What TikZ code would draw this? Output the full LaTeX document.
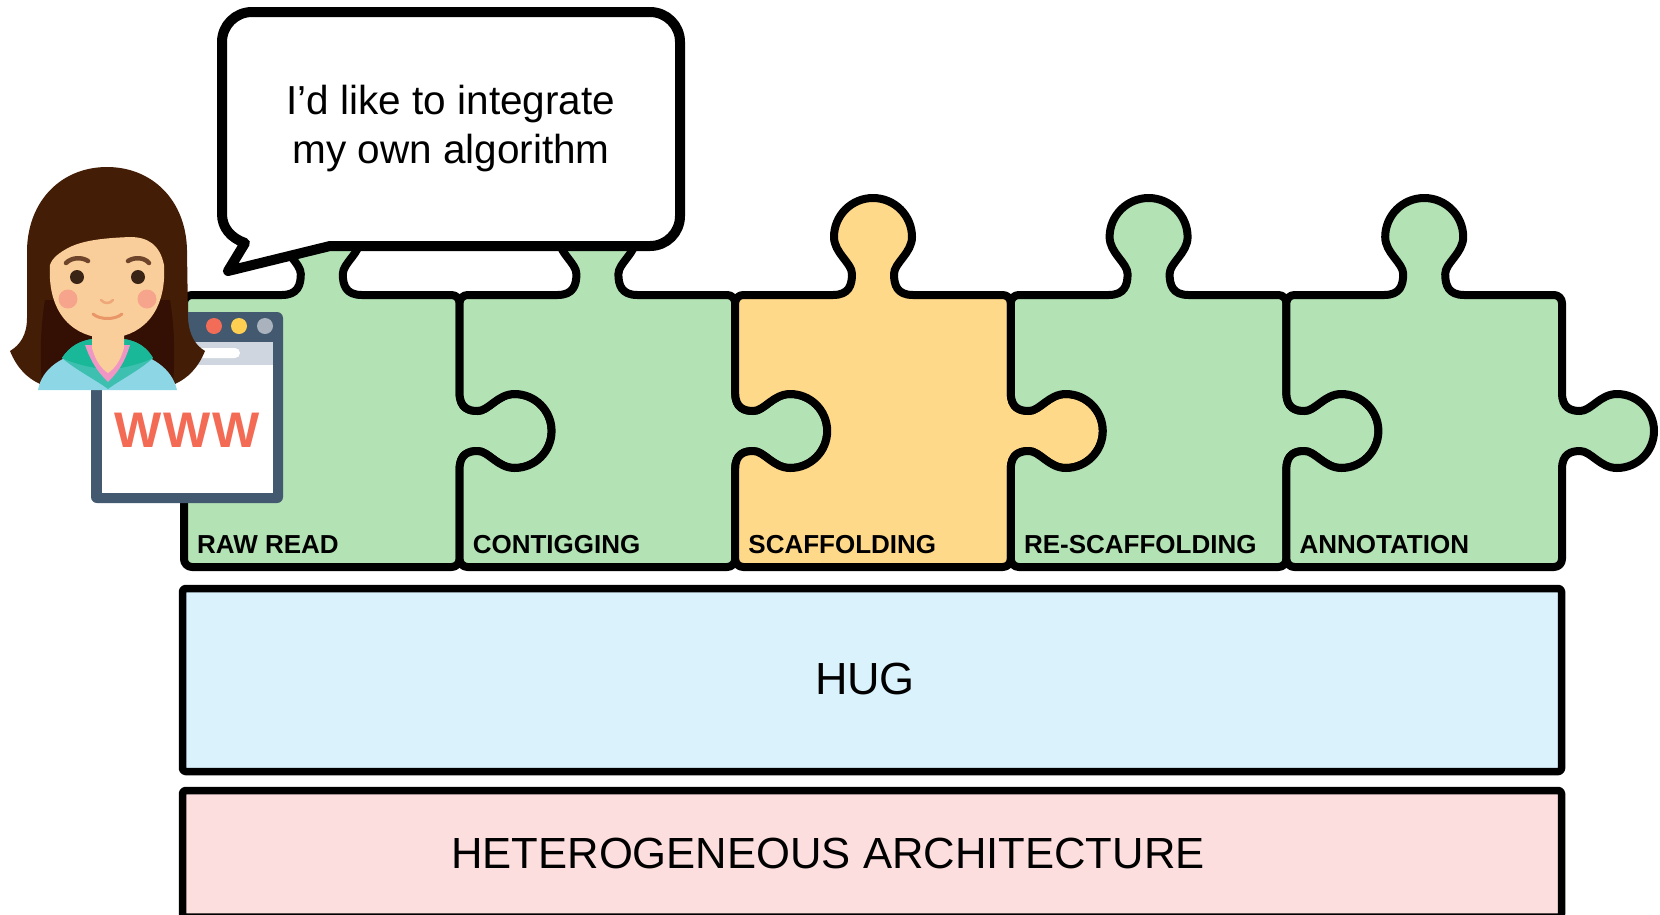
\documentclass[tikz,border=0pt]{standalone}
\usepackage{fontspec}
\setmainfont{Liberation Sans}

\definecolor{pieceGreen}{RGB}{179,226,181}
\definecolor{pieceOrange}{RGB}{255,217,138}
\definecolor{hugBlue}{RGB}{218,242,252}
\definecolor{archPink}{RGB}{253,222,222}
\definecolor{slate}{RGB}{67,89,111}
\definecolor{barGray}{RGB}{207,214,224}
\definecolor{dotRed}{RGB}{242,108,87}
\definecolor{dotYellow}{RGB}{255,207,82}
\definecolor{dotGray}{RGB}{170,179,189}
\definecolor{wwwRed}{RGB}{244,107,85}
\definecolor{hairA}{RGB}{68,29,6}
\definecolor{hairB}{RGB}{52,15,3}
\definecolor{skin}{RGB}{250,206,154}
\definecolor{cheek}{RGB}{246,165,140}
\definecolor{eye}{RGB}{58,36,22}
\definecolor{brow}{RGB}{110,68,42}
\definecolor{mouth}{RGB}{233,150,105}
\definecolor{teal}{RGB}{25,184,152}
\definecolor{lapel}{RGB}{62,192,176}
\definecolor{shirtBlue}{RGB}{140,214,230}
\definecolor{shirtPink}{RGB}{240,150,196}

% jigsaw piece geometry (1pt = 1px, y grows downwards)
\def\jW{275.6}
\def\jH{272}
\def\jX{137.8}
\def\jY{136}

% socket on the left edge, run upwards, bulging into the piece
\def\jsocket{-- (0,\jY+38) .. controls (0,\jY+23) and (9,\jY+20) .. (18,\jY+20)
 .. controls (29,\jY+20) and (38,\jY+37) .. (55,\jY+37)
 .. controls (75.4,\jY+37) and (92,\jY+20.4) .. (92,\jY)
 .. controls (92,\jY-20.4) and (75.4,\jY-37) .. (55,\jY-37)
 .. controls (38,\jY-37) and (29,\jY-20) .. (18,\jY-20)
 .. controls (9,\jY-20) and (0,\jY-23) .. (0,\jY-38)}

% #1 left x, #2 fill colour, #3 left edge (socket or nothing)
\newcommand\jigsawpiece[3]{%
  \begin{scope}[shift={(#1,295)}]
    \draw[jigsaw,fill=#2] (0,\jH-8) #3 -- (0,8) .. controls (0,3.6) and (3.6,0) .. (8,0)
      -- (\jX-40,0) .. controls (\jX-24,0) and (\jX-21,-10) .. (\jX-21,-21)
      .. controls (\jX-21,-32) and (\jX-39,-42) .. (\jX-39,-58)
      .. controls (\jX-39,-79.5) and (\jX-21.5,-97) .. (\jX,-97)
      .. controls (\jX+21.5,-97) and (\jX+39,-79.5) .. (\jX+39,-58)
      .. controls (\jX+39,-42) and (\jX+21,-32) .. (\jX+21,-21)
      .. controls (\jX+21,-10) and (\jX+24,0) .. (\jX+40,0)
      -- (\jW-8,0) .. controls (\jW-3.6,0) and (\jW,3.6) .. (\jW,8)
      -- (\jW,\jY-38) .. controls (\jW,\jY-23) and (\jW+9,\jY-20) .. (\jW+18,\jY-20)
      .. controls (\jW+29,\jY-20) and (\jW+38,\jY-37) .. (\jW+55,\jY-37)
      .. controls (\jW+75.4,\jY-37) and (\jW+92,\jY-20.4) .. (\jW+92,\jY)
      .. controls (\jW+92,\jY+20.4) and (\jW+75.4,\jY+37) .. (\jW+55,\jY+37)
      .. controls (\jW+38,\jY+37) and (\jW+29,\jY+20) .. (\jW+18,\jY+20)
      .. controls (\jW+9,\jY+20) and (\jW,\jY+23) .. (\jW,\jY+38)
      -- (\jW,\jH-8) .. controls (\jW,\jH-3.6) and (\jW-3.6,\jH) .. (\jW-8,\jH)
      -- (8,\jH) .. controls (3.6,\jH) and (0,\jH-3.6) .. (0,\jH-8) -- cycle;
  \end{scope}}

\begin{document}
\begin{tikzpicture}[x=1pt,y=-1pt,line join=round,
  jigsaw/.style={draw=black,line width=8pt},
  stackbox/.style={draw=black,line width=7.5pt,rounded corners=3pt},
  piecelabel/.style={anchor=base west,inner sep=0pt,font=\bfseries\fontsize{26}{30}\selectfont},
  layerlabel/.style={anchor=base,inner sep=0pt,font=\fontsize{44}{52}\selectfont},
  saytext/.style={anchor=base,inner sep=0pt,font=\fontsize{40.5}{48}\selectfont}]

\useasboundingbox (0,0) rectangle (1660,914);

% pipeline pieces
\jigsawpiece{184}{pieceGreen}{}
\jigsawpiece{459.6}{pieceGreen}{\jsocket}
\jigsawpiece{735.2}{pieceOrange}{\jsocket}
\jigsawpiece{1010.8}{pieceGreen}{\jsocket}
\jigsawpiece{1286.4}{pieceGreen}{\jsocket}

\node[piecelabel] (lraw)   at (197,553)    {RAW READ};
\node[piecelabel] (lcontig) at (472.6,553)  {CONTIGGING};
\node[piecelabel] (lscaf)  at (748.2,553)  {SCAFFOLDING};
\node[piecelabel] (lrescaf) at (1023.8,553) {RE-SCAFFOLDING};
\node[piecelabel] (lannot) at (1299.4,553) {ANNOTATION};

% layers underneath
\draw[stackbox,fill=hugBlue]  (182.5,588.5) rectangle (1561.5,771.5);
\draw[stackbox,fill=archPink] (182.5,790.5) rectangle (1561.5,917);
\node[layerlabel,font=\fontsize{45}{52}\selectfont] (hug)  at (865,694) {HUG};
\node[layerlabel,font=\fontsize{43.6}{52}\selectfont] (arch) at (828,868) {HETEROGENEOUS ARCHITECTURE};

% browser window
\fill[slate,rounded corners=6pt] (91,312) rectangle (283,503);
\fill[white] (102,365) rectangle (273,493);
\fill[barGray] (102,342) rectangle (273,365);
\fill[white,rounded corners=5pt] (102,348) rectangle (240,358);
\fill[dotRed]    (214,326) circle[radius=8pt];
\fill[dotYellow] (239,326) circle[radius=8pt];
\fill[dotGray]   (265,326) circle[radius=8pt];
\node[anchor=base,inner sep=0pt,text=wwwRed,font=\bfseries\fontsize{50}{52}\selectfont] (www) at (187,447) {W\kern2pt W\kern2pt W};

% user avatar: hair
\fill[hairA] (107,167) .. controls (152,167) and (186,200) .. (187,250) -- (188,318)
  .. controls (189,335) and (195,345) .. (205,351) .. controls (198,368) and (188,378) .. (175,384)
  -- (40,384) .. controls (27,378) and (17,368) .. (10,351)
  .. controls (20,345) and (27,335) .. (27,318) -- (27,250)
  .. controls (28,200) and (62,167) .. (107,167) -- cycle;
\fill[hairB] (45,300) .. controls (40,330) and (40,360) .. (42,384) -- (173,384)
  .. controls (175,360) and (175,330) .. (170,300) -- cycle;
% neck, shirt, collar
\fill[skin] (92,330) rectangle (124,360);
\fill[shirtBlue] (38,390) .. controls (42,368) and (62,356) .. (88,350) -- (127,350)
  .. controls (152,356) and (172,368) .. (177,390) -- cycle;
\fill[lapel] (62,358) .. controls (70,346) and (80,341) .. (92,339) -- (124,339)
  .. controls (136,341) and (146,346) .. (153,358) .. controls (140,370) and (120,380) .. (108,389)
  .. controls (96,380) and (76,370) .. (62,358) -- cycle;
\fill[teal] (62,358) .. controls (70,346) and (80,341) .. (92,339) -- (124,339)
  .. controls (136,341) and (146,346) .. (153,358) .. controls (145,362) and (132,366) .. (120,368)
  -- (96,368) .. controls (84,366) and (70,362) .. (62,358) -- cycle;
\fill[shirtPink] (85,345) .. controls (92,365) and (100,374) .. (108,382)
  .. controls (116,374) and (124,365) .. (130,345) -- cycle;
\fill[skin] (92,335) -- (92,348) .. controls (96,362) and (102,369) .. (108,373)
  .. controls (114,369) and (120,362) .. (124,348) -- (124,335) -- cycle;
% face
\fill[skin] (50,265) .. controls (47,315) and (75,338) .. (107,338)
  .. controls (139,338) and (167,315) .. (164,265)
  .. controls (160,245) and (148,237) .. (130,237)
  .. controls (105,238) and (85,240) .. (70,247)
  .. controls (60,252) and (52,258) .. (50,265) -- cycle;
\fill[cheek] (68,299) circle[radius=9.5pt];
\fill[cheek] (147,299) circle[radius=9.5pt];
\fill[eye] (77,277) circle[radius=7pt];
\fill[eye] (138,277) circle[radius=7pt];
\draw[brow,line width=4.5pt,line cap=round] (66,263) .. controls (72,257) and (82,257) .. (88,261);
\draw[brow,line width=4.5pt,line cap=round] (128,261) .. controls (134,257) and (144,257) .. (149,263);
\draw[mouth!70!skin,line width=2.5pt,line cap=round] (101,300) .. controls (104,304) and (110,304) .. (113,300);
\draw[mouth,line width=3pt,line cap=round] (93,314) .. controls (100,320) and (115,320) .. (122,314);

% speech bubble
\draw[line width=10pt,fill=white] (252,12) -- (650,12) .. controls (666.6,12) and (680,25.4) .. (680,42)
  -- (680,216) .. controls (680,232.6) and (666.6,246) .. (650,246)
  -- (330,246) -- (228,271) -- (245,243)
  .. controls (231,238) and (222,228) .. (222,214)
  -- (222,42) .. controls (222,25.4) and (235.4,12) .. (252,12) -- cycle;
\node[saytext] (say1) at (451,114) {I’d like to integrate};
\node[saytext] (say2) at (451,163) {my own algorithm};

\end{tikzpicture}
\end{document}
